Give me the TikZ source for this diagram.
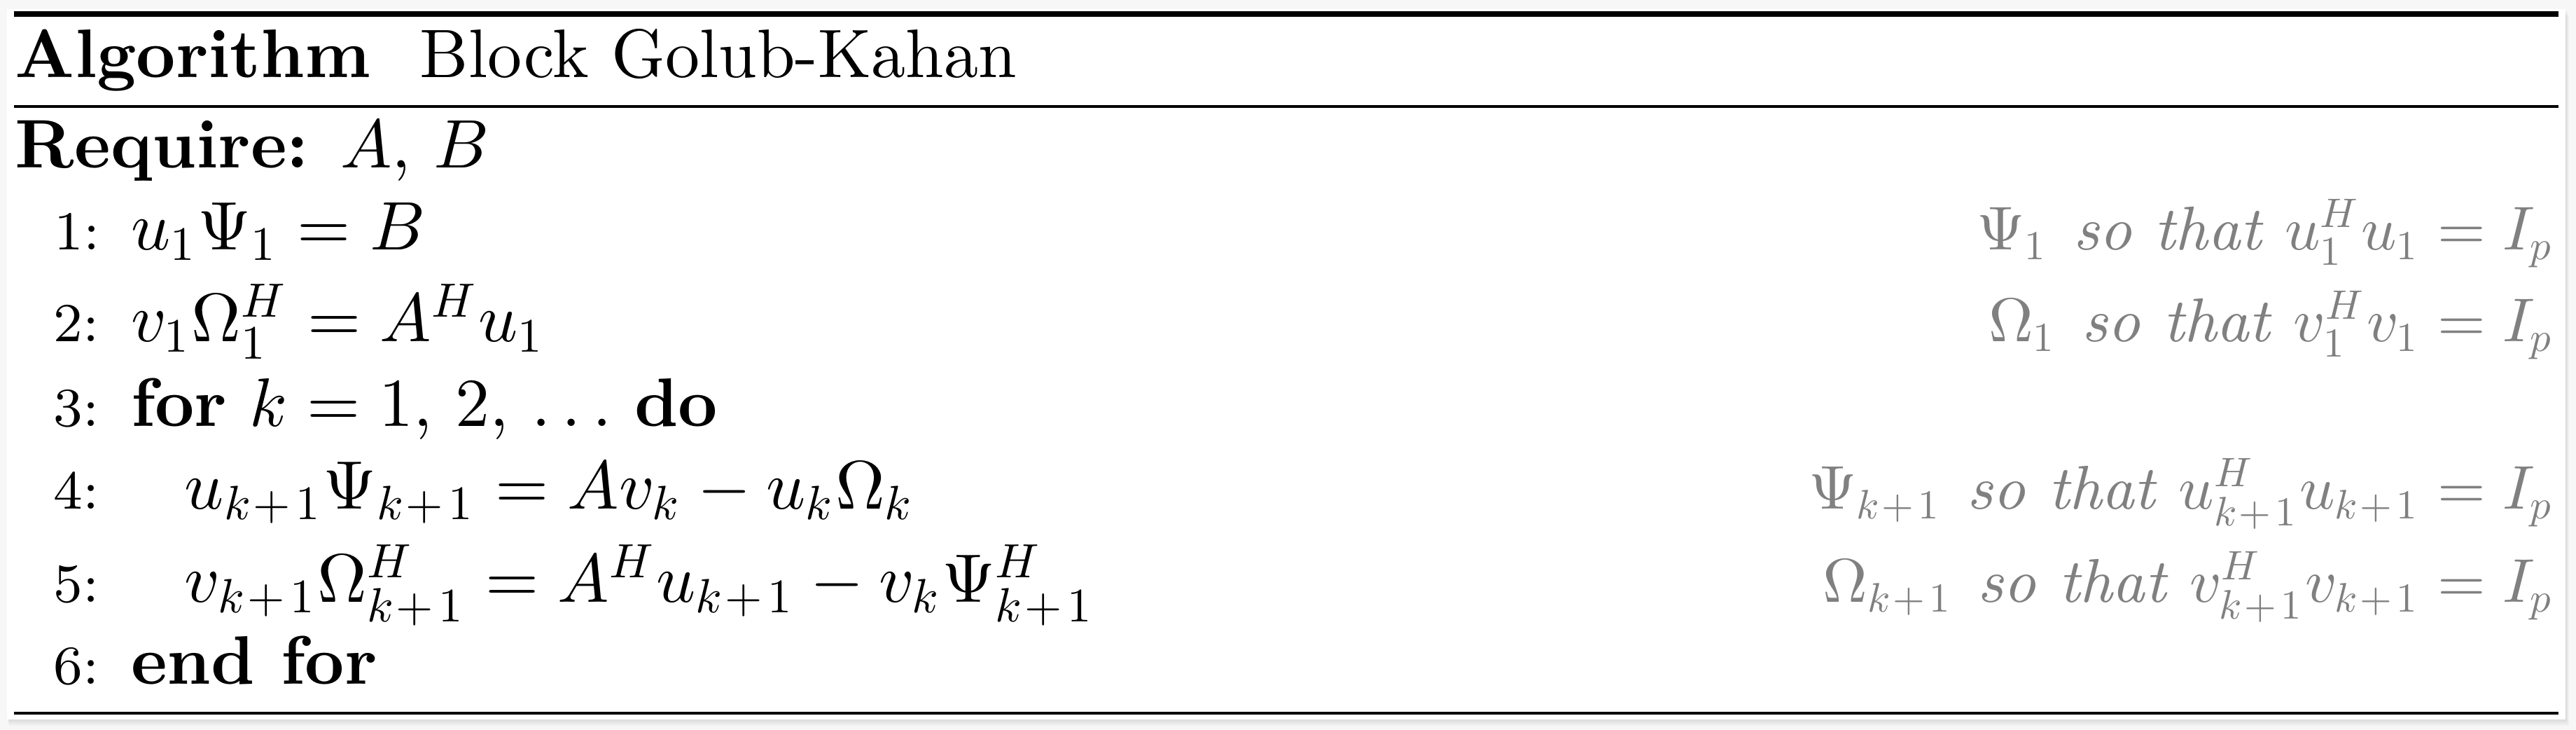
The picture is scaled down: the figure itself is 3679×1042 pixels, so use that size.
\documentclass[tikz,border=0pt]{standalone}
\usepackage{amsmath}
\usepackage{tikz}

% scripts as scaled text-size glyphs
\DeclareFontShape{OML}{cmm}{m}{it}{<->cmmi10}{\skewchar\font=127}
\DeclareFontShape{OMS}{cmsy}{m}{n}{<->cmsy10}{\skewchar\font=48}
\DeclareFontShape{OT1}{cmr}{m}{n}{<->cmr10}{}

\definecolor{pagebg}{HTML}{F7F7F7}
\definecolor{cmtgray}{HTML}{808080}

% index k+1
\newcommand{\kpl}{k\mkern1mu+\mkern2mu1}

\tikzset{
  algline/.style={anchor=base west, inner sep=0pt, outer sep=0pt},
  lineno/.style={anchor=base west, inner sep=0pt, outer sep=0pt, font=\footnotesize},
  algcmt/.style={anchor=base east, inner sep=0pt, outer sep=0pt, text=cmtgray, font=\small}
}

\begin{document}
\begin{tikzpicture}[x=0.10204pt, y=-0.10204pt]
  % Background and page with soft shadow
  \fill[pagebg] (0,0) rectangle (3679,1042);
  \foreach \d in {1,3,5,7,9}
    \fill[black, opacity=0.025] (10+\d/3,13+\d) rectangle (3664+\d/2,1027+\d);
  \fill[white] (10,13) rectangle (3664,1027);
  \useasboundingbox (0,0) rectangle (3679,1042);

  % Rules of the algorithm box
  \draw[line width=0.8pt] (20,20) -- (3654,20);
  \draw[line width=0.4pt] (20,152) -- (3654,152);
  \draw[line width=0.4pt] (20,1018) -- (3654,1018);

  % Caption
  \node[algline] (caption) at (22,111) {\textbf{Algorithm}};
  \node[algline] (name) at (600,111) {Block Golub-Kahan};

  % Input
  \node[algline] (require) at (22,240) {\textbf{Require:}\hspace{4.6pt}$A$, $B$};

  % Line numbers
  \node[lineno] (n1) at (78,357) {1:};
  \node[lineno] (n2) at (77,488) {2:};
  \node[lineno] (n3) at (77,609) {3:};
  \node[lineno] (n4) at (77,727) {4:};
  \node[lineno] (n5) at (77,860) {5:};
  \node[lineno] (n6) at (77,977) {6:};

  % Statements
  \node[algline] (s1) at (187,357) {$u_1\Psi_1 = B$};
  \node[algline] (s2) at (187,488) {$v_1\Omega_1^H = A^H u_1$};
  \node[algline] (s3) at (187,609) {\textbf{for} $k = 1$, $2$, $\ldots$ \textbf{do}};
  \node[algline] (s4) at (264,727) {$u_{\kpl}\Psi_{\kpl} = Av_k - u_k\Omega_k$};
  \node[algline] (s5) at (264,860) {$v_{\kpl}\Omega_{\kpl}^H = A^H u_{\kpl} - v_k\Psi_{\kpl}^H$};
  \node[algline] (s6) at (187,977) {\textbf{end for}};

  % Comments on the right
  \node[algcmt] (c1) at (3648,357) {$\Psi_1$\hspace{3.6pt}\textit{so that} $u_1^H u_1 = I_p$};
  \node[algcmt] (c2) at (3648,488) {$\Omega_1$\hspace{3.6pt}\textit{so that} $v_1^H v_1 = I_p$};
  \node[algcmt] (c4) at (3648,727) {$\Psi_{\kpl}$\hspace{3.6pt}\textit{so that} $u_{\kpl}^H u_{\kpl} = I_p$};
  \node[algcmt] (c5) at (3648,860) {$\Omega_{\kpl}$\hspace{3.6pt}\textit{so that} $v_{\kpl}^H v_{\kpl} = I_p$};

\end{tikzpicture}
\end{document}
